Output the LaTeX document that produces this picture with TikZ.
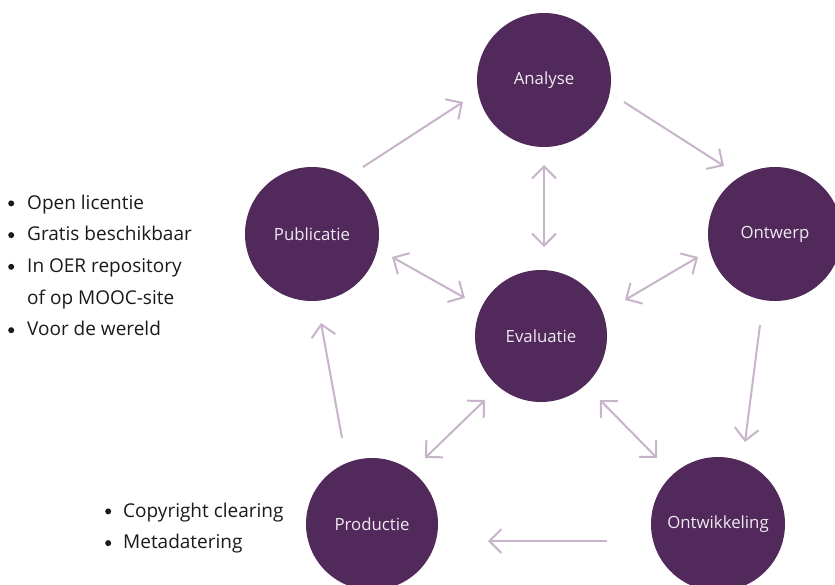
\documentclass[tikz,border=0pt]{standalone}
\usepackage{fontspec}
\setmainfont{Open Sans}
\usetikzlibrary{arrows.meta}
\definecolor{circfill}{HTML}{51295A}
\definecolor{arrowcol}{HTML}{C8B4CA}
\definecolor{labelcol}{HTML}{F1E9F2}
\definecolor{listcol}{HTML}{1A1A1A}
\newcommand\mybul{\tikz[baseline={(0,-5.6pt)}, x=1pt, y=1pt]\fill[listcol] (0,0) circle (3pt);}
\tikzset{
  phase/.style={circle, fill=circfill, minimum size=134pt, inner sep=0pt,
    text=labelcol, font=\fontsize{16.8}{19}\selectfont},
  flow/.style={draw=arrowcol, line width=2pt,
    -{Straight Barb[length=12pt,width=24pt]}},
  both/.style={draw=arrowcol, line width=2pt,
    {Straight Barb[length=12pt,width=24pt]}-{Straight Barb[length=12pt,width=24pt]}},
  listtext/.style={anchor=base west, inner sep=0pt, text=listcol,
    font=\fontsize{19}{31.7}\selectfont}
}
\begin{document}
\begin{tikzpicture}[x=1pt,y=-1pt]
\useasboundingbox (0,0) rectangle (835,584);
\fill[white] (0,0) rectangle (835,584);
% circles
\node[phase] (ana) at (544,80) {Analyse};
\node[phase] (ont) at (775,234) {Ontwerp};
\node[phase] (pub) at (312,234) {Publicatie};
\node[phase, minimum size=132pt] (eva) at (541,336) {Evaluatie};
\node[phase, minimum size=132pt] (pro) at (372,524) {Productie};
\node[phase] (ontw) at (718,524) {Ontwikkeling};
% arrow end points
\coordinate (a1s) at (363,167); \coordinate (a1e) at (463,102);
\coordinate (a2s) at (624,102); \coordinate (a2e) at (724,166);
\coordinate (a3s) at (760,325); \coordinate (a3e) at (745,442);
\coordinate (a4s) at (607,541); \coordinate (a4e) at (488,541);
\coordinate (a5s) at (342,438); \coordinate (a5e) at (321,323);
\coordinate (b1s) at (544,165); \coordinate (b1e) at (544,247);
\coordinate (b2s) at (392,257); \coordinate (b2e) at (465,298);
\coordinate (b3s) at (698,257); \coordinate (b3e) at (625,300);
\coordinate (b4s) at (425,458); \coordinate (b4e) at (485,400);
\coordinate (b5s) at (600,400); \coordinate (b5e) at (657,458);
% cycle arrows
\draw[flow] (a1s) -- (a1e);
\draw[flow] (a2s) -- (a2e);
\draw[flow] (a3s) -- (a3e);
\draw[flow] (a4s) -- (a4e);
\draw[flow] (a5s) -- (a5e);
% evaluation arrows
\draw[both] (b1s) -- (b1e);
\draw[both] (b2s) -- (b2e);
\draw[both] (b3s) -- (b3e);
\draw[both] (b4s) -- (b4e);
\draw[both] (b5s) -- (b5e);
% lists
\node[listtext] (list1) at (8,209) {\begin{tabular}[t]{@{}p{19pt}@{}l@{}}
\mybul&Open licentie\\
\mybul&Gratis beschikbaar\\
\mybul&In OER repository\\
&of op MOOC-site\\
\mybul&Voor de wereld
\end{tabular}};
\node[listtext] (list2) at (105,517) {\begin{tabular}[t]{@{}p{18pt}@{}l@{}}
\mybul&Copyright clearing\\
\mybul&Metadatering
\end{tabular}};
\end{tikzpicture}
\end{document}
